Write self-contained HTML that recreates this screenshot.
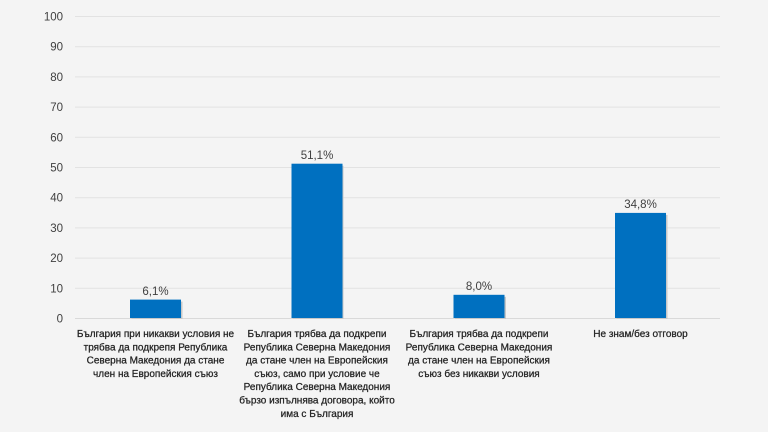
<!DOCTYPE html>
<html><head><meta charset="utf-8"><style>
html,body{margin:0;padding:0;background:#f4f4f4;}
svg{display:block;}
text{font-family:"Liberation Sans","DejaVu Sans",sans-serif;}
</style></head><body>
<svg width="768" height="432" viewBox="0 0 768 432" xmlns="http://www.w3.org/2000/svg">
<rect width="768" height="432" fill="#f4f4f4"/>
<g stroke="#e2e2e2" stroke-width="1">
<line x1="75" y1="16.5" x2="720" y2="16.5"/>
<line x1="75" y1="46.7" x2="720" y2="46.7"/>
<line x1="75" y1="76.9" x2="720" y2="76.9"/>
<line x1="75" y1="107.1" x2="720" y2="107.1"/>
<line x1="75" y1="137.3" x2="720" y2="137.3"/>
<line x1="75" y1="167.5" x2="720" y2="167.5"/>
<line x1="75" y1="197.7" x2="720" y2="197.7"/>
<line x1="75" y1="227.9" x2="720" y2="227.9"/>
<line x1="75" y1="258.1" x2="720" y2="258.1"/>
<line x1="75" y1="288.3" x2="720" y2="288.3"/>
</g>
<line x1="75" y1="318.5" x2="720" y2="318.5" stroke="#d9d9d9" stroke-width="1"/>
<g font-size="11.5" fill="#404040" text-anchor="end">
<text x="63" y="20.5">100</text>
<text x="63" y="50.7">90</text>
<text x="63" y="80.9">80</text>
<text x="63" y="111.1">70</text>
<text x="63" y="141.3">60</text>
<text x="63" y="171.5">50</text>
<text x="63" y="201.7">40</text>
<text x="63" y="231.9">30</text>
<text x="63" y="262.1">20</text>
<text x="63" y="292.3">10</text>
<text x="63" y="322.5">0</text>
</g>
<g fill="#c8c8c8">
<rect x="131.5" y="301.6" width="51" height="17.4"/>
<rect x="292.5" y="165.7" width="51" height="153.3"/>
<rect x="455" y="296.8" width="51" height="22.2"/>
<rect x="616.5" y="214.9" width="51" height="104.1"/>
</g>
<g fill="#0070c0">
<rect x="130" y="299.6" width="51" height="18.4"/>
<rect x="291.5" y="163.7" width="51" height="154.3"/>
<rect x="453.5" y="294.8" width="51" height="23.2"/>
<rect x="615" y="212.9" width="51" height="105.1"/>
</g>
<g font-size="11.5" fill="#404040" text-anchor="middle">
<text x="155.5" y="295">6,1%</text>
<text x="317" y="159">51,1%</text>
<text x="479" y="290">8,0%</text>
<text x="640.5" y="208">34,8%</text>
</g>
<g font-size="10" fill="#222" stroke="#222" stroke-width="0.25" text-anchor="middle">
<text x="155.5" y="337">България при никакви условия не</text>
<text x="155.5" y="350.3">трябва да подкрепя Република</text>
<text x="155.5" y="363.6">Северна Македония да стане</text>
<text x="155.5" y="376.9">член на Европейския съюз</text>

<text x="317" y="337">България трябва да подкрепи</text>
<text x="317" y="350.3">Република Северна Македония</text>
<text x="317" y="363.6">да стане член на Европейския</text>
<text x="317" y="376.9">съюз, само при условие че</text>
<text x="317" y="390.2">Република Северна Македония</text>
<text x="317" y="403.5">бързо изпълнява договора, който</text>
<text x="317" y="416.8">има с България</text>

<text x="479" y="337">България трябва да подкрепи</text>
<text x="479" y="350.3">Република Северна Македония</text>
<text x="479" y="363.6">да стане член на Европейския</text>
<text x="479" y="376.9">съюз без никакви условия</text>

<text x="640.5" y="337">Не знам/без отговор</text>
</g>
</svg>
</body></html>
